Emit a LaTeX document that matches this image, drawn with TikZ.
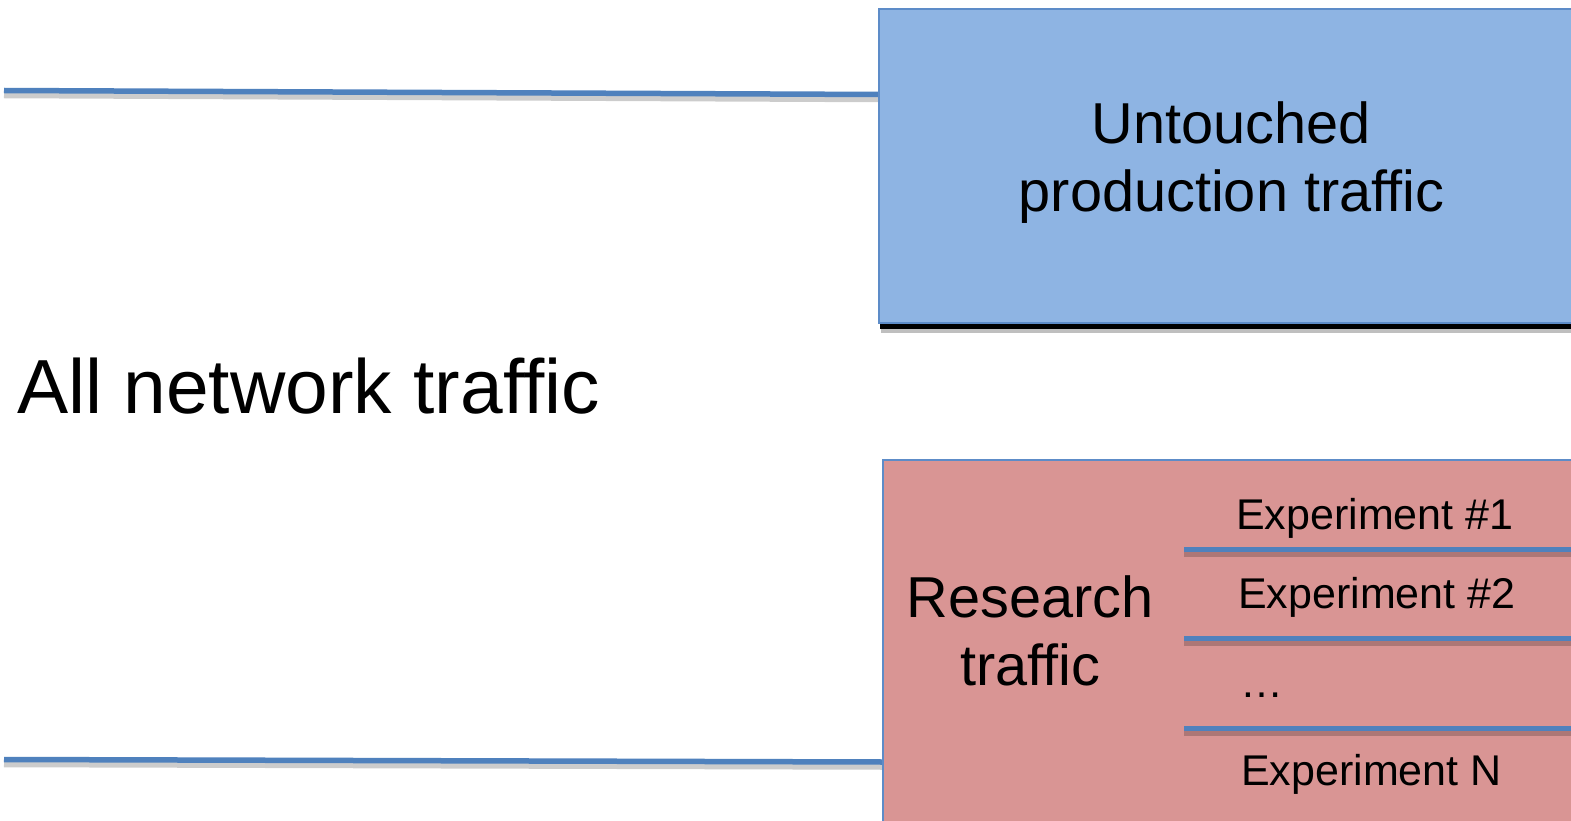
\documentclass[tikz,border=0pt]{standalone}
\usepackage{fontspec}
\setmainfont{Liberation Sans}
\definecolor{lineblue}{HTML}{4F81BD}
\definecolor{edgeblue}{HTML}{5D8CC8}
\definecolor{prodfill}{HTML}{8EB4E3}
\definecolor{resfill}{HTML}{D99594}
\tikzset{
  wire/.style={draw=lineblue, line width=5.5pt},
  wireshadow/.style={draw=black, draw opacity=0.2, line width=5.5pt},
  prodbox/.style={draw=edgeblue, line width=2.2pt, fill=prodfill},
  resbox/.style={draw=edgeblue, line width=1.6pt, fill=resfill},
  biglabel/.style={inner sep=0pt, font=\fontsize{76.7}{90}\selectfont},
  boxlabel/.style={inner sep=0pt, align=center, font=\fontsize{57.7}{68}\selectfont},
  explabel/.style={inner sep=0pt, anchor=base west, font=\fontsize{43}{50}\selectfont},
}
\begin{document}
\begin{tikzpicture}[x=1pt,y=-1pt]
\clip (0,0) rectangle (1571,821);
\fill[white] (0,0) rectangle (1571,821);
% connectors
\coordinate (t0) at (4,90.5);
\coordinate (t1) at (879,94.5);
\coordinate (b0) at (4,759.5);
\coordinate (b1) at (883,762);
\draw[wireshadow] ([yshift=-5pt]t0) -- ([yshift=-5pt]t1);
\draw[wire] (t0) -- (t1);
\draw[wireshadow] ([yshift=-5pt]b0) -- ([yshift=-5pt]b1);
\draw[wire] (b0) -- (b1);
% production box
\fill[black!25] (881,325) rectangle (1600,333);
\fill[black] (880,321) rectangle (1600,329);
\node[prodbox, anchor=north west, minimum width=720pt, minimum height=314pt, inner sep=0pt] (prod) at (878,8) {};
\node[boxlabel] (prodtxt) at (1231.5,162.6) {Untouched\\production traffic};
% research box
\node[resbox, anchor=north west, minimum width=720pt, minimum height=400pt, inner sep=0pt] (res) at (882,459) {};
\node[boxlabel] (restxt) at (1030,630.6) {Research\\traffic};
% experiment separators
\coordinate (s1a) at (1184,549.5); \coordinate (s1b) at (1580,549.5);
\coordinate (s2a) at (1184,638.5); \coordinate (s2b) at (1580,638.5);
\coordinate (s3a) at (1184,728.5); \coordinate (s3b) at (1580,728.5);
\foreach \a/\b in {s1a/s1b,s2a/s2b,s3a/s3b}{
  \draw[wireshadow] ([yshift=-5pt]\a) -- ([yshift=-5pt]\b);
  \draw[wire] (\a) -- (\b);
}
\node[explabel] (e1) at (1236,529.5) {Experiment \#1};
\node[explabel] (e2) at (1238,608) {Experiment \#2};
\node[explabel] (e3) at (1240,697) {…};
\node[explabel] (e4) at (1241,785) {Experiment N};
% main label
\node[biglabel, anchor=base west] (all) at (17,413) {All network traffic};
\end{tikzpicture}
\end{document}
